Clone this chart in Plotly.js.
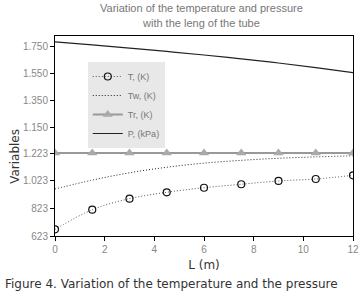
<!DOCTYPE html>
<html>
<head>
<meta charset="utf-8">
<script src="https://cdn.plot.ly/plotly-3.0.1.min.js"></script>
<style>html,body{margin:0;padding:0;background:#fff;}#chart{width:363px;height:293px;}</style>
</head>
<body>
<div id="chart"></div>
<script>
const L = [0, 1.5, 3, 4.5, 6, 7.5, 9, 10.5, 12];
const T_K = [671, 813, 893, 939, 972, 997, 1021, 1035, 1062];
const Tw_K = [963, 1027, 1080, 1120, 1150, 1170, 1185, 1195, 1203];
const Tr_K = [1223, 1223, 1223, 1223, 1223, 1223, 1223, 1223, 1223];
const P_kPa = [1783, 1760, 1737, 1712, 1686, 1658, 1627, 1593, 1556];
const xTicks = [0, 2, 4, 6, 8, 10, 12];
const tempTicks = [623, 823, 1023, 1223];
const presTicks = [1150, 1350, 1550, 1750];

const traces = [
  {x: L, y: T_K, name: 'T, (K)', type: 'scatter', mode: 'lines+markers',
   line: {color: '#555', width: 1, dash: '1px,2px', shape: 'spline'},
   marker: {symbol: 'circle-open', size: 7, color: '#111', line: {width: 1.2}}},
  {x: L, y: Tw_K, name: 'Tw, (K)', type: 'scatter', mode: 'lines',
   line: {color: '#222', width: 1, dash: '1px,2px', shape: 'spline'}},
  {x: L, y: Tr_K, name: 'Tr, (K)', type: 'scatter', mode: 'lines+markers',
   line: {color: '#999', width: 2},
   marker: {symbol: 'triangle-up', size: 9, color: '#aaa'}},
  {x: L, y: P_kPa, name: 'P, (kPa)', type: 'scatter', mode: 'lines', yaxis: 'y2',
   line: {color: '#222', width: 1.2, shape: 'spline'}}
];

const tickFont = {family: 'Liberation Sans, Arial, sans-serif', size: 10, color: '#888'};
const titleFont = {family: 'Liberation Sans, Arial, sans-serif', size: 11, color: '#777'};

const layout = {
  width: 363, height: 293,
  margin: {l: 55, r: 10, t: 36, b: 57},
  paper_bgcolor: '#fff', plot_bgcolor: '#fff',
  separators: ',.',
  showlegend: true,
  legend: {x: 0.11, y: 0.87, xanchor: 'left', yanchor: 'top', bgcolor: '#e8e8e8',
           font: {family: 'Liberation Sans, Arial, sans-serif', size: 9, color: '#777'},
           itemwidth: 30, tracegroupgap: 0},
  xaxis: {range: [0, 12], tickvals: xTicks, showgrid: false, zeroline: false,
          showline: true, linecolor: '#000', linewidth: 1, mirror: true,
          ticks: 'outside', ticklen: 4, tickcolor: '#000', tickfont: tickFont,
          title: {text: 'L (m)', font: {family: 'DejaVu Sans, sans-serif', size: 12, color: '#333'}, standoff: 6}},
  yaxis: {range: [623, 2069], tickvals: tempTicks, tickformat: ',d', showgrid: false, zeroline: false,
          showline: true, linecolor: '#000', linewidth: 1, mirror: true,
          ticks: 'outside', ticklen: 4, tickcolor: '#000', tickfont: tickFont},
  yaxis2: {range: [352, 1826], tickvals: presTicks, tickformat: ',d', overlaying: 'y', side: 'left', anchor: 'x',
           showgrid: false, zeroline: false, showline: false,
           ticks: 'outside', ticklen: 4, tickcolor: '#000', tickfont: tickFont},
  annotations: [
    {text: 'Variation of the temperature and pressure', xref: 'paper', yref: 'paper', x: 0.49, y: 1.14,
     xanchor: 'center', yanchor: 'middle', showarrow: false, font: titleFont},
    {text: 'with the leng of the tube', xref: 'paper', yref: 'paper', x: 0.49, y: 1.065,
     xanchor: 'center', yanchor: 'middle', showarrow: false, font: titleFont},
    {text: 'Variables', xref: 'paper', yref: 'paper', x: -0.165, y: 0.4, textangle: -90,
     showarrow: false, font: {family: 'DejaVu Sans, sans-serif', size: 12, color: '#333'}},
    {text: 'Figure 4. Variation of the temperature and the pressure', xref: 'paper', yref: 'paper',
     x: -0.175, y: -0.24, xanchor: 'left', yanchor: 'middle', showarrow: false,
     font: {family: 'DejaVu Sans, sans-serif', size: 12, color: '#333'}}
  ]
};

Plotly.newPlot('chart', traces, layout, {displayModeBar: false, staticPlot: true});
</script>
</body>
</html>
